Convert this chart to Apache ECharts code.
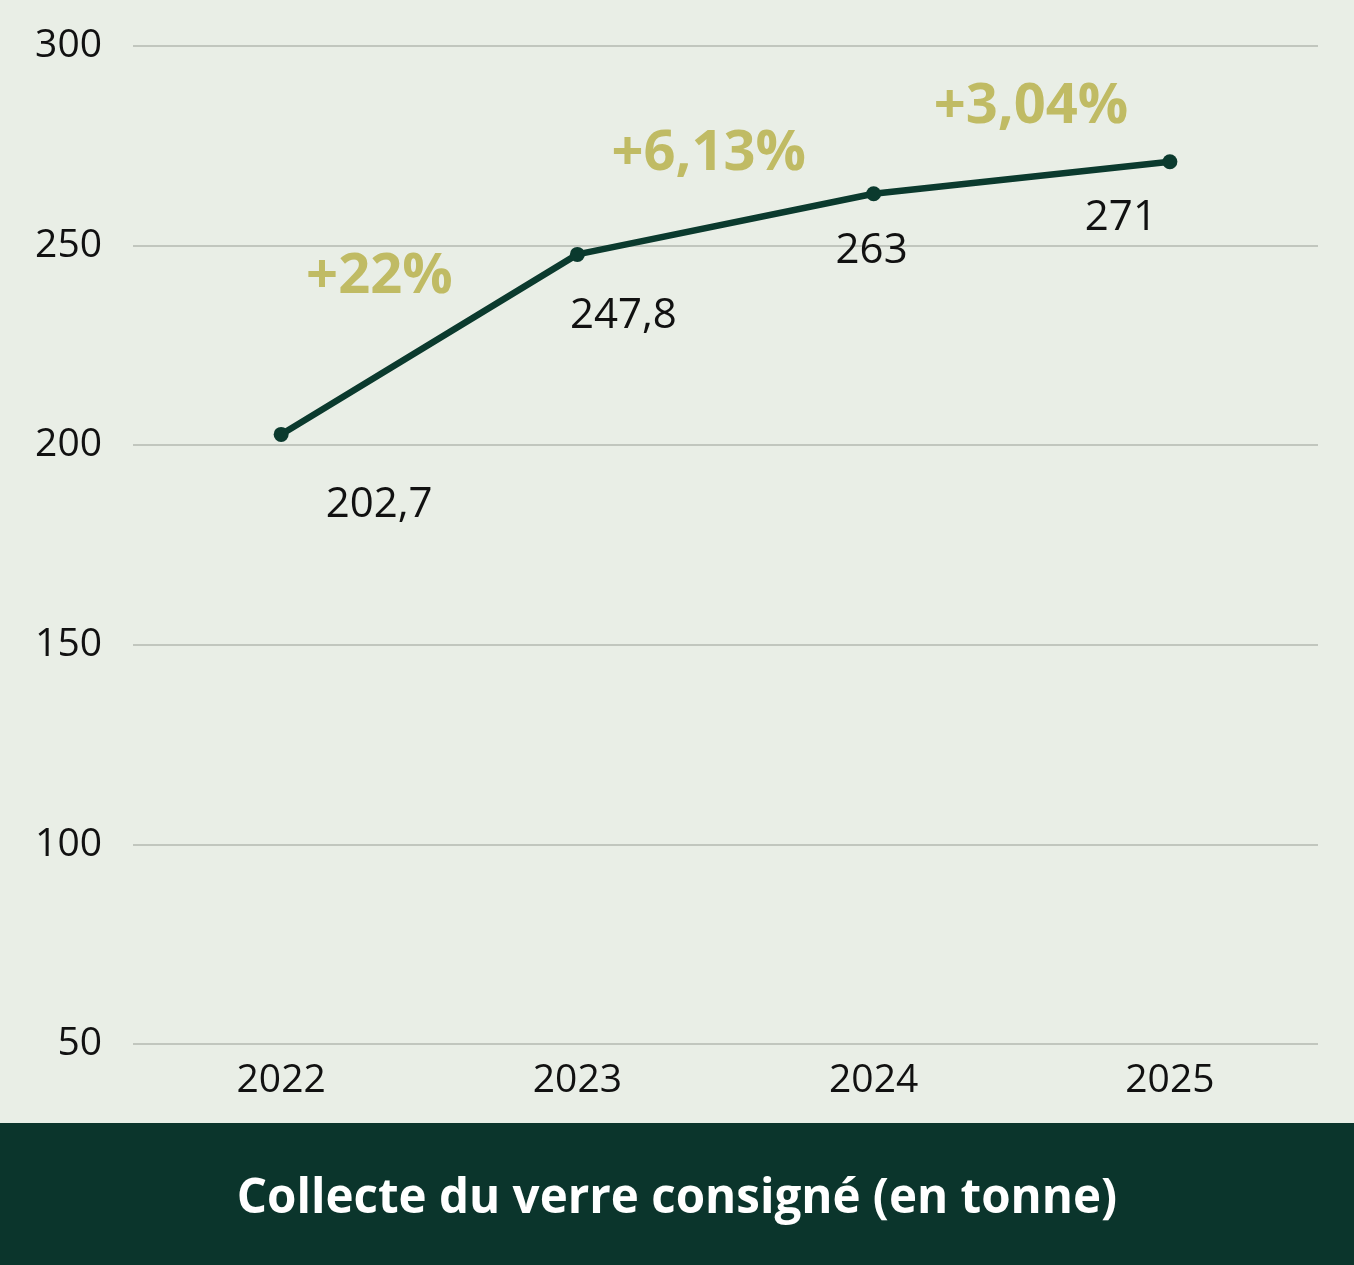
<!DOCTYPE html>
<html>
<head>
<meta charset="utf-8">
<script src="https://cdn.jsdelivr.net/npm/echarts@6/dist/echarts.min.js"></script>
<style>
  html, body { margin: 0; padding: 0; background: #e9eee6; }
  #main { width: 1354px; height: 1265px; }
</style>
</head>
<body>
<div id="main"></div>
<script>
var years = ['2022', '2023', '2024', '2025'];
var tonnes = [202.7, 247.8, 263, 271];
var growth = ['', '+22%', '+6,13%', '+3,04%'];
var yTicks = [50, 300, 50]; // min, max, interval

// label placement around each point (pixels)
var valueOffsets = [[98, 71], [46, 62], [-2, 57], [-49, 56]];
var growthOffsets = [[0, 0], [-198, 23], [-165, -40], [-139, -55]];

var chart = echarts.init(document.getElementById('main'));

chart.setOption({
    backgroundColor: '#e9eee6',
    animation: false,
    title: {
        text: 'Collecte du verre consigné (en tonne)',
        left: 'center',
        top: 1170,
        textStyle: {
            color: '#ffffff',
            fontFamily: 'Open Sans',
            fontWeight: 'bold',
            fontSize: 47.5
        }
    },
    graphic: [{
        type: 'rect',
        left: 0,
        bottom: 0,
        z: -1,
        shape: { width: 1354, height: 142 },
        style: { fill: '#0b352c' }
    }],
    grid: { left: 133, right: 36, top: 46, bottom: 221 },
    xAxis: {
        type: 'category',
        data: years,
        boundaryGap: true,
        axisLine: { show: false },
        axisTick: { show: false },
        axisLabel: {
            margin: 17,
            color: '#111',
            fontFamily: 'Open Sans',
            fontSize: 39
        }
    },
    yAxis: {
        type: 'value',
        min: yTicks[0],
        max: yTicks[1],
        interval: yTicks[2],
        axisLine: { show: false },
        axisTick: { show: false },
        splitLine: { lineStyle: { color: '#b3b8b1', width: 1.5 } },
        axisLabel: {
            margin: 31,
            color: '#111',
            fontFamily: 'Open Sans',
            fontSize: 39,
            padding: [4, 0, 0, 0]
        }
    },
    series: [
        {
            type: 'line',
            data: tonnes.map(function (v, i) {
                return { value: v, label: { offset: valueOffsets[i] } };
            }),
            symbol: 'circle',
            symbolSize: 15,
            lineStyle: { color: '#0b3a2e', width: 6.5 },
            itemStyle: { color: '#0b3a2e' },
            z: 3,
            label: {
                show: true,
                position: 'inside',
                align: 'center',
                verticalAlign: 'middle',
                color: '#111',
                fontFamily: 'Open Sans',
                fontSize: 42,
                formatter: function (p) { return String(p.value).replace('.', ','); }
            }
        },
        {
            type: 'line',
            data: tonnes.map(function (v, i) {
                return { value: v, label: { offset: growthOffsets[i] } };
            }),
            symbol: 'circle',
            symbolSize: 2,
            showAllSymbol: true,
            silent: true,
            z: 1,
            itemStyle: { color: 'rgba(0,0,0,0)' },
            lineStyle: { width: 0, color: 'rgba(0,0,0,0)' },
            label: {
                show: true,
                position: 'inside',
                align: 'center',
                verticalAlign: 'middle',
                color: '#c0bb64',
                fontFamily: 'Open Sans',
                fontWeight: 'bold',
                fontSize: 56,
                formatter: function (p) { return growth[p.dataIndex]; }
            }
        }
    ]
});
</script>
</body>
</html>
